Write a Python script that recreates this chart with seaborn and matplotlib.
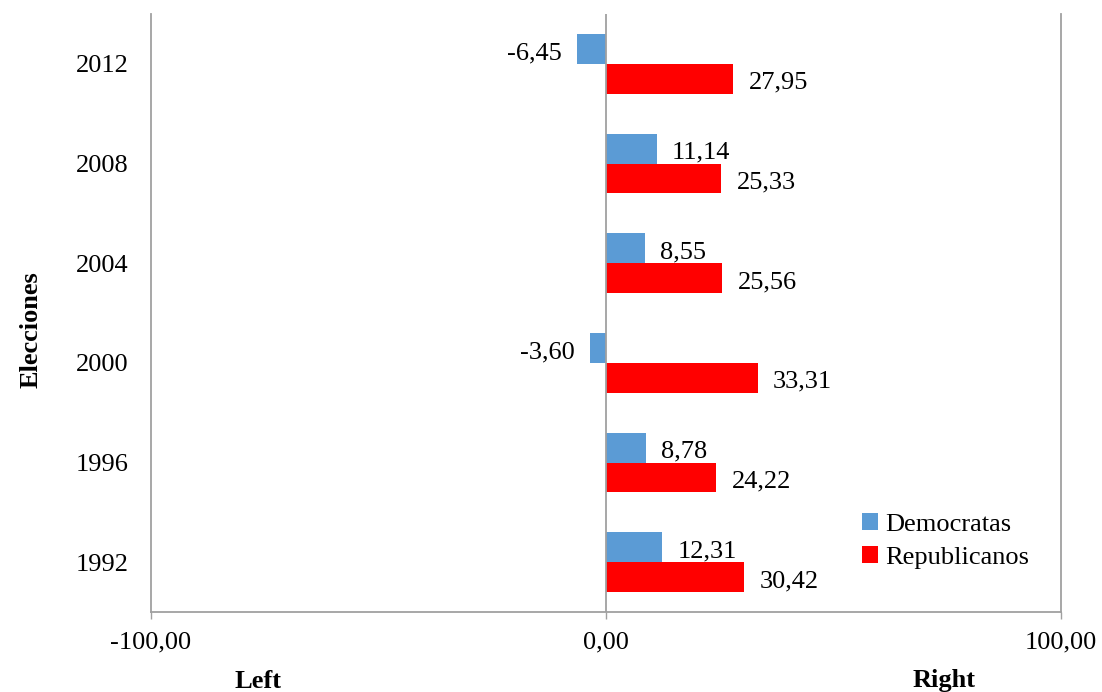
import matplotlib
matplotlib.use("Agg")
import matplotlib.pyplot as plt
import seaborn as sns
import pandas as pd
from matplotlib.patches import Patch

years = ["2012", "2008", "2004", "2000", "1996", "1992"]
democratas = [-6.45, 11.14, 8.55, -3.60, 8.78, 12.31]
republicanos = [27.95, 25.33, 25.56, 33.31, 24.22, 30.42]
series_names = ["Democratas", "Republicanos"]
tick_values = [-100, 0, 100]
tick_labels = ["-100,00", "0,00", "100,00"]
colors = ["#5B9BD5", "#FF0000"]

df = pd.DataFrame({
    "Elecciones": years * 2,
    "valor": democratas + republicanos,
    "partido": [series_names[0]] * len(years) + [series_names[1]] * len(years),
})

sns.set_theme(style="white")
plt.rcParams["font.family"] = ["Liberation Serif", "DejaVu Serif"]
plt.rcParams["text.color"] = "black"
plt.rcParams["xtick.labelcolor"] = "black"
plt.rcParams["ytick.labelcolor"] = "black"
FS = 19

fig = plt.figure(figsize=(11.02, 6.92), dpi=100)
ax = fig.add_axes([151/1102, 1-612/692, (1061-151)/1102, (612-14)/692])

sns.barplot(data=df, y="Elecciones", x="valor", hue="partido", order=years,
            hue_order=series_names, palette=colors, orient="h", width=0.6,
            ax=ax, legend=False, saturation=1, edgecolor="none")

for cont, vals in zip(ax.containers, [democratas, republicanos]):
    anns = ax.bar_label(cont, labels=[f"{v:.2f}".replace(".", ",") for v in vals],
                        padding=11, fontsize=FS, color="black")
    for a in anns:
        a.xyann = (a.xyann[0], -3)

gray = "#A0A0A0"
ax.axvline(0, color=gray, lw=1.3, zorder=5)
ax.set_xlim(-100, 100)
ax.set_xticks(tick_values)
ax.set_xticklabels(tick_labels, fontsize=FS, color="black")
ax.set_yticks(range(len(years)))
ax.set_yticklabels(years, fontsize=FS, color="black")
ax.tick_params(axis="x", length=5, width=1, color=gray, pad=9, bottom=True)
ax.tick_params(axis="y", length=0, pad=16)
for s in ["left", "right", "bottom"]:
    ax.spines[s].set_visible(True)
    ax.spines[s].set_color(gray)
    ax.spines[s].set_linewidth(1.3)
ax.spines["top"].set_visible(False)
ax.set_xlabel("")
ax.set_ylabel("")
ax.grid(False)

fig.text(31/1102, 1-330/692, "Elecciones", rotation=90, ha="center", va="center",
         fontsize=FS, fontweight="bold", color="black")
fig.text(258/1102, 1-681/692, "Left", ha="center", va="center", fontsize=FS,
         fontweight="bold", color="black")
fig.text(944/1102, 1-681/692, "Right", ha="center", va="center", fontsize=FS,
         fontweight="bold", color="black")

handles = [Patch(facecolor=c, edgecolor="none") for c in colors]
leg = fig.legend(handles, series_names, loc="upper left",
                 bbox_to_anchor=(862/1102, 1-513/692), frameon=False, fontsize=FS,
                 handlelength=0.62, handleheight=0.62, handletextpad=0.25,
                 labelspacing=0.38, borderpad=0, borderaxespad=0)
for t in leg.get_texts():
    t.set_color("black")

fig.savefig("out.png", dpi=100)
